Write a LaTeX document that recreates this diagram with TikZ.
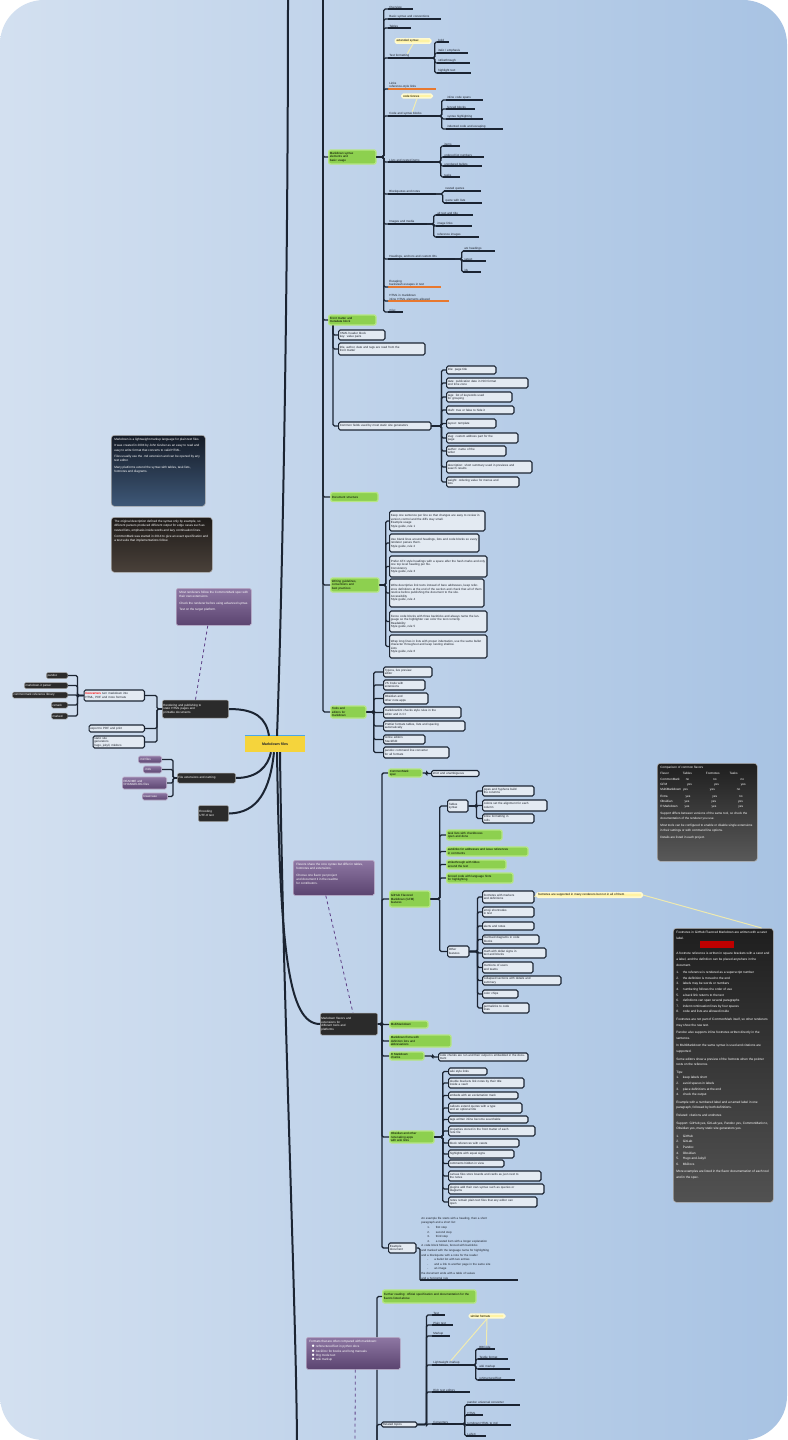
\documentclass[tikz,border=0pt]{standalone}
\usepackage{fontspec}
\setmainfont{Liberation Sans}
\usetikzlibrary{calc}
\definecolor{ln}{HTML}{1B2432}
\definecolor{boxf}{HTML}{E3EAF2}
\definecolor{txt}{HTML}{1A1F29}
\definecolor{grn}{HTML}{8DD04F}
\definecolor{grnglow}{HTML}{B6E684}
\definecolor{dkf}{HTML}{2B2B2B}
\definecolor{pp1}{HTML}{8E77A3}
\definecolor{pp2}{HTML}{5B4470}
\definecolor{yel}{HTML}{FFF3A3}
\definecolor{yelglow}{HTML}{FFFAD0}
\definecolor{org}{HTML}{E8782E}
\definecolor{bgl}{HTML}{D3E0F0}
\definecolor{bgr}{HTML}{A8C3E3}
\definecolor{cen}{HTML}{F5D43C}
\definecolor{cenb}{HTML}{4BA6E8}
\definecolor{dash}{HTML}{5E3F86}
\definecolor{n1top}{HTML}{151B26}
\definecolor{n1bot}{HTML}{3E5878}
\definecolor{n2top}{HTML}{1E1B19}
\definecolor{n2bot}{HTML}{4A413A}
\tikzset{
 conn/.style={draw=ln, line width=1.3pt, rounded corners=1.5pt},
 trunk/.style={draw=ln, line width=2pt},
 uline/.style={draw=ln, line width=1.3pt},
 oline/.style={draw=org, line width=1.3pt},
 base/.style={font=\fontsize{3}{3.5}\selectfont, inner xsep=1.2pt, inner ysep=0.8pt, align=left},
 bx/.style={base, rounded corners=1.5pt, draw=ln, line width=1.1pt, fill=boxf, text=txt},
 gn/.style={base, rounded corners=2pt, fill=grn, draw=grnglow, line width=1.3pt, text=black},
 dk/.style={base, rounded corners=1.5pt, fill=dkf, draw=gray!70, line width=0.5pt, text=white},
 pp/.style={base, rounded corners=1.5pt, top color=pp1, bottom color=pp2, draw=pp1!60!white, line width=0.6pt, text=white},
 yl/.style={base, rounded corners=1.5pt, fill=yel, draw=yelglow, line width=1.6pt, text=black},
 ul/.style={base, inner ysep=0.6pt, text=txt},
 note/.style={rounded corners=3pt, draw=gray!60, line width=0.6pt, text=white, font=\fontsize{3.1}{4.3}\selectfont, inner sep=3pt, anchor=north west},
 dashln/.style={draw=dash, dashed, line width=0.8pt},
 yline/.style={draw=yel, line width=1pt, opacity=0.8},
}
\newcommand\NT[3]{\parbox[c][#2pt][t]{#1pt}{\raggedright #3}}
\newcommand\Bx[6]{\node[#1,text width=#4pt,minimum height=#5pt,anchor=west] (#2) at (#3) {#6};}
\newcommand\BxE[6]{\node[#1,text width=#4pt,minimum height=#5pt,anchor=east] (#2) at (#3) {#6};}
\newcommand\Ul[4]{\node[ul,text width=#3pt,anchor=south west] (#1) at (#2) {#4};\draw[uline] (#1.south west) -- (#1.south east);}
\newcommand\Ulo[4]{\node[ul,text width=#3pt,anchor=south west] (#1) at (#2) {#4};\draw[oline] (#1.south west) -- (#1.south east);}
\newcommand\Lk[3]{\draw[conn] (#1) -- ++(#2,0) |- (#3);}
\begin{document}
\begin{tikzpicture}[x=1pt,y=-1pt]
\useasboundingbox (0,0) rectangle (787,1440);
\fill[white] (0,0) rectangle (787,1440);
\shade[rounded corners=44pt, left color=bgl, right color=bgr] (0,0) rectangle (787,1440);

% ---------- end coordinates of branches leaving the picture
\coordinate (topend) at (288,-3);
\coordinate (p0) at (323,-3);
\coordinate (botend) at (297,1443);
\coordinate (bp) at (377,1443);
\coordinate (p3end) at (355,1443);

% ---------- central
\node[base, fill=cen, minimum width=60pt, minimum height=16pt, align=center, text=txt, font=\fontsize{3.6}{4}\selectfont\bfseries] (c) at (275,744) {Markdown files};
\draw[cenb, line width=1.2pt] (c.north west) -- (c.north east);

% ---------- top main trunk and its children
\draw[trunk] ([xshift=2pt]c.north) .. controls (282,600) and (288,300) .. (topend);

\Bx{gn}{g1}{328,157}{45}{14}{Markdown syntax\\ elements and\\ basic usage}
\Bx{gn}{g2}{328,320}{45}{10}{Front matter and\\ metadata block}
\Bx{gn}{g3}{330,497}{45}{9}{Document structure}
\Bx{gn}{g4}{330,585}{46}{14}{Writing guidelines,\\ conventions and\\ best practices}
\Bx{gn}{g5}{330,712}{33}{12}{Tools and\\ editors for\\ markdown}
\foreach \g in {g1,g2,g3,g4,g5}{\draw[conn] (p0) |- (\g.west);}

% g1 children
\Ul{a1}{388,9}{22}{Overview}
\Ul{a2}{388,19}{50}{Basic syntax and conventions}
\Ul{a3}{388,28}{20}{Tables}
\node[yl, text width=33pt] (lbl1) at (413,41) {extended syntax};
\Ul{a4}{388,58}{36}{Text formatting}
\Ulo{a5}{388,89}{45}{Links\\ reference-style links}
\node[yl, text width=28pt] (lbl2) at (417,96) {code fences};
\Ul{a6}{388,116}{46}{Code and syntax blocks}
\Ul{a7}{388,162}{42}{Lists and nested items}
\Ul{a8}{388,194}{45}{Blockquotes and notes}
\Ul{a9}{388,224}{36}{Images and media}
\Ul{a10}{388,259}{64}{Headings, anchors and custom IDs}
\Ulo{a11}{388,287}{50}{Escaping\\ backslash escapes in text}
\Ulo{a12}{388,301}{58}{HTML in markdown\\ inline HTML elements allowed}
\Ul{a13}{388,312}{12}{misc}
\foreach \a in {a1,a2,a3,a4,a5,a6,a7,a8,a9,a10,a11,a12,a13}{\Lk{g1.east}{7}{\a.south west}}
\draw[yline] (lbl1.south) -- (a4.north);
\draw[yline] (lbl2.south) -- (a6.north);

\Ul{a4a}{437,42}{9}{bold}
\Ul{a4b}{437,53}{28}{italic / emphasis}
\Ul{a4c}{437,63}{30}{strikethrough}
\Ul{a4d}{437,73}{31}{highlight text}
\foreach \s in {a4a,a4b,a4c,a4d}{\Lk{a4.south east}{8}{\s.south west}}

\Ul{a6a}{446,100}{34}{inline code spans}
\Ul{a6b}{446,109}{26}{fenced blocks}
\Ul{a6c}{446,119}{34}{syntax highlighting}
\Ul{a6d}{446,129}{54}{indented code and escaping}
\foreach \s in {a6a,a6b,a6c,a6d}{\Lk{a6.south east}{5}{\s.south west}}

\Ul{a7a}{443,146}{14}{items}
\Ul{a7b}{443,157}{38}{ordered list numbers}
\Ul{a7c}{443,166}{36}{unordered bullets}
\Ul{a7d}{443,177}{14}{tasks}
\foreach \s in {a7a,a7b,a7c,a7d}{\Lk{a7.south east}{8}{\s.south west}}

\Ul{a8a}{444,191}{34}{nested quotes}
\Ul{a8b}{444,203}{35}{quote with lists}
\foreach \s in {a8a,a8b}{\Lk{a8.south east}{7}{\s.south west}}

\Ul{a9a}{436,215}{34}{alt text and title}
\Ul{a9b}{436,226}{33}{image links}
\Ul{a9c}{436,237}{40}{reference images}
\foreach \s in {a9a,a9b,a9c}{\Lk{a9.south east}{7}{\s.south west}}

\Ul{a10a}{463,251}{29}{atx headings}
\Ul{a10b}{463,261}{20}{setext}
\Ul{a10c}{463,272}{15}{ids}
\foreach \s in {a10a,a10b,a10c}{\Lk{a10.south east}{7}{\s.south west}}

% g2 children
\Bx{bx}{b1}{338,335}{44}{10}{YAML header block\\ key: value pairs}
\Bx{bx}{b2}{338,349}{84}{12}{title, author, date and tags are read from the\\ front matter}
\Bx{bx}{b3}{338,426}{90}{8}{Common fields used by most static site generators}
\foreach \b in {b1,b2,b3}{\draw[conn] ([xshift=5pt]g2.south west) |- (\b.west);}
\Bx{bx}{b3a}{446,370}{47}{8}{title: page title}
\Bx{bx}{b3b}{446,383}{79}{10}{date: publication date in ISO format\\ and time zone}
\Bx{bx}{b3c}{446,397}{63}{10}{tags: list of keywords used\\ for grouping}
\Bx{bx}{b3d}{446,410}{65}{8}{draft: true or false to hide it}
\Bx{bx}{b3e}{446,423.5}{47}{9}{layout: template}
\Bx{bx}{b3f}{446,438}{69}{10}{slug: custom address part for the\\ page}
\Bx{bx}{b3g}{446,451}{57}{10}{author: name of the\\ writer}
\Bx{bx}{b3h}{446,467}{83}{12}{description: short summary used in previews and\\ search results}
\Bx{bx}{b3i}{446,482}{70}{10}{weight: ordering value for menus and\\ lists}
\foreach \s in {b3a,b3b,b3c,b3d,b3e,b3f,b3g,b3h,b3i}{\Lk{b3.east}{10}{\s.west}}

% g4 children
\Bx{bx}{g4a}{389,521}{93}{20}{Keep one sentence per line so that changes are easy to review in version control and the diffs stay small.\\ Example usage\\ Style guide, rule 1}
\Bx{bx}{g4b}{389,543}{87}{18}{Use blank lines around headings, lists and code blocks so every renderer parses them.\\ Style guide, rule 2}
\Bx{bx}{g4c}{389,566.5}{95}{21}{Prefer ATX style headings with a space after the hash marks and only one top level heading per file.\\ Consistency\\ Style guide, rule 3}
\Bx{bx}{g4d}{389,593}{92}{28}{Write descriptive link texts instead of bare addresses, keep reference definitions at the end of the section and check that all of them resolve before publishing the document to the site.\\ Accessibility\\ Style guide, rule 4}
\Bx{bx}{g4e}{389,621.5}{95}{21}{Fence code blocks with three backticks and always name the language so the highlighter can color the text correctly.\\ Readability\\ Style guide, rule 5}
\Bx{bx}{g4f}{389,646.5}{95}{23}{Wrap long lines in lists with proper indentation, use the same bullet character throughout and keep nesting shallow.\\ Lists\\ Style guide, rule 6}
\foreach \s in {g4a,g4b,g4c,g4d,g4e,g4f}{\Lk{g4.east}{6}{\s.west}}

% g5 children
\Bx{bx}{g5a}{383,672}{46}{10}{Typora, live preview\\ editor}
\Bx{bx}{g5b}{383,685}{39}{10}{VS Code with\\ extensions}
\Bx{bx}{g5c}{383,698.5}{42}{11}{Obsidian and\\ other note apps}
\Bx{bx}{g5d}{383,712.5}{75}{11}{markdownlint checks style rules in the\\ editor and in CI}
\Bx{bx}{g5e}{383,726}{79}{10}{Prettier formats tables, lists and spacing\\ automatically}
\Bx{bx}{g5f}{383,739.5}{39}{9}{online editors\\ StackEdit}
\Bx{bx}{g5g}{383,752.5}{63}{11}{pandoc command line converter\\ for all formats}
\foreach \s in {g5a,g5b,g5c,g5d,g5e,g5f,g5g}{\Lk{g5.east}{7}{\s.west}}

% ---------- left side
\node[note, top color=n1top, bottom color=n1bot] (n1) at (111,435) {\NT{88}{65}{Markdown is a lightweight markup language for plain text files.\\[2pt] It was created in 2004 by John Gruber as an easy to read and easy to write format that converts to valid HTML.\\[2pt] Files usually use the .md extension and can be opened by any text editor.\\[2pt] Many platforms extend the syntax with tables, task lists, footnotes and diagrams.}};
\node[note, top color=n2top, bottom color=n2bot] (n2) at (111,517) {\NT{95}{49}{The original description defined the syntax only by example, so different parsers produced different output for edge cases such as nested lists, emphasis inside words and lazy continuation lines.\\[2pt] CommonMark was started in 2014 to give an exact specification and a test suite that implementations follow.}};
\node[note, pp, font=\fontsize{3.1}{4.3}\selectfont, inner sep=3pt, align=left] (pn1) at (176,588) {\NT{69}{31}{Most renderers follow the CommonMark spec with their own extensions.\\[2pt] Check the renderer before using advanced syntax.\\[2pt] Test on the target platform.}};

\node[dk, text width=64pt, minimum height=18pt, anchor=west] (A) at (162,709) {Rendering and publishing to\\ static HTML pages and\\ printable documents};
\draw[trunk] (A.east) .. controls (256,709) and (266,718) .. ([xshift=-6pt]c.north);
\draw[dashln] ([xshift=-6pt]pn1.south) -- (A.north);

\BxE{bx}{Ac1}{145,695.5}{58}{11}{{\color{red}\bfseries Converters} turn markdown into\\ HTML, PDF and more formats}
\BxE{bx}{Ac2}{145,728.5}{53}{7}{export to PDF and print}
\BxE{bx}{Ac3}{145,742}{49}{12}{static site\\ generators\\ hugo, jekyll, mkdocs}
\foreach \s in {Ac1,Ac2,Ac3}{\Lk{A.west}{-5}{\s.east}}
\BxE{dk}{Ac1a}{68,675.5}{19}{6}{pandoc}
\BxE{dk}{Ac1b}{68,685.5}{41}{6}{markdown-it parser}
\BxE{dk}{Ac1c}{68,695}{53}{6}{commonmark reference library}
\BxE{dk}{Ac1d}{68,705}{14}{6}{remark}
\BxE{dk}{Ac1e}{68,716}{14}{6}{marked}
\foreach \s in {Ac1a,Ac1b,Ac1c,Ac1d,Ac1e}{\Lk{Ac1.west}{-6}{\s.east}}

\node[dk, text width=56pt, minimum height=10pt, anchor=west] (B) at (177,778) {File extensions and naming};
\draw[trunk] (B.east) .. controls (258,778) and (268,766) .. ([xshift=-4pt]c.south);
\BxE{pp}{Bc1}{162,759.5}{21}{7}{.md files}
\BxE{pp}{Bc2}{162,769.5}{16}{7}{.mdx}
\BxE{pp}{Bc3}{167,783}{42}{12}{README and\\ CHANGELOG files}
\BxE{pp}{Bc4}{168,796.5}{23}{7}{lowercase}
\foreach \s in {Bc1,Bc2,Bc3,Bc4}{\Lk{B.west}{-4}{\s.east}}

\node[dk, text width=28pt, minimum height=16pt, anchor=west] (C) at (198,813.5) {Encoding\\ UTF-8 text};
\draw[trunk] (C.east) .. controls (258,813) and (270,790) .. ([xshift=-1pt]c.south);

% ---------- D branch
\node[dk, text width=55pt, minimum height=22pt, anchor=west] (D) at (320,1024) {Markdown flavors and\\ extensions for\\ different tools and\\ platforms};
\draw[trunk] ([xshift=2pt]c.south) .. controls (280,950) and (288,1024) .. (D.west);
\draw[trunk] ([xshift=5pt]c.south) .. controls (283,1000) and (296,1300) .. (botend);
\node[note, pp, font=\fontsize{3.1}{4.3}\selectfont, inner sep=3pt, align=left] (pn2) at (293,860) {\NT{75}{29}{Flavors share the core syntax but differ in tables, footnotes and extensions.\\[2pt] Choose one flavor per project\\ and document it in the readme\\ for contributors.}};
\draw[dashln] ([xshift=-8pt]pn2.south) -- ([xshift=4pt]D.north);

\Bx{gn}{d1}{388,773}{31}{8}{CommonMark\\ spec}
\Bx{gn}{d2}{389,899}{38}{16}{GitHub Flavored\\ Markdown (GFM)\\ features}
\Bx{gn}{d3}{389,1024.5}{36}{7}{MultiMarkdown}
\Bx{gn}{d4}{389,1041}{59}{12}{Markdown Extra with\\ definition lists and\\ abbreviations}
\Bx{gn}{d5}{389,1056}{32}{8}{R Markdown\\ chunks}
\Bx{gn}{d6}{389,1137}{42}{12}{Obsidian and other\\ note-taking apps\\ with wiki links}
\Bx{bx}{d7}{388,1248}{25}{10}{Example\\ document}
\foreach \s in {d1,d2,d3,d4,d5,d6,d7}{\Lk{D.east}{4}{\s.west}}

\Bx{bx}{d1b}{431,773.5}{45}{6}{strict and unambiguous}
\Lk{d1.east}{4}{d1b.west}

\Bx{bx}{d2a}{447,806}{18}{12}{Tables\\ syntax}
\Bx{gn}{d2b}{446,835}{53}{10}{task lists with checkboxes\\ open and done}
\Bx{gn}{d2c}{446,851.5}{79}{9}{autolinks for addresses and issue references\\ in comments}
\Bx{gn}{d2d}{446,864.5}{57}{9}{strikethrough with tildes\\ around the text}
\Bx{gn}{d2e}{446,878}{64}{10}{fenced code with language hints\\ for highlighting}
\Bx{bx}{d2f}{447,951.5}{19}{11}{Other\\ features}
\foreach \s in {d2a,d2b,d2c,d2d,d2e,d2f}{\Lk{d2.east}{9}{\s.west}}

\Bx{bx}{d2a1}{482,791}{49}{10}{pipes and hyphens build\\ the columns}
\Bx{bx}{d2a2}{482,805.5}{62}{11}{colons set the alignment for each\\ column}
\Bx{bx}{d2a3}{482,818.5}{49}{9}{inline formatting in\\ cells}
\foreach \s in {d2a1,d2a2,d2a3}{\Lk{d2a.east}{8}{\s.west}}

\Bx{bx}{d2f1}{482,897}{49}{12}{footnotes with markers\\ and definitions}
\Bx{bx}{d2f2}{482,912}{49}{10}{emoji shortcodes\\ in text}
\Bx{bx}{d2f3}{482,926}{49}{8}{alerts and notes}
\Bx{bx}{d2f4}{482,939.5}{54}{9}{mermaid diagrams in code\\ blocks}
\Bx{bx}{d2f5}{482,953}{61}{10}{math with dollar signs in\\ text and blocks}
\Bx{bx}{d2f6}{482,967.5}{48}{11}{mentions of users\\ and teams}
\Bx{bx}{d2f7}{482,980.5}{76}{9}{collapsed sections with details and\\ summary}
\Bx{bx}{d2f8}{482,994}{33}{8}{color chips}
\Bx{bx}{d2f9}{482,1008}{44}{10}{permalinks to code\\ lines}
\foreach \s in {d2f1,d2f2,d2f3,d2f4,d2f5,d2f6,d2f7,d2f8,d2f9}{\Lk{d2f.east}{8}{\s.west}}

\node[yl, text width=103pt, anchor=west] (yl3) at (536,895) {footnotes are supported in many renderers but not in all of them};
\draw[yline] (d2f1.east) -- (yl3.west);

\Bx{bx}{d5b}{438,1057}{87}{8}{code chunks are run and their output is embedded in the document}
\Lk{d5.east}{8}{d5b.west}

\Bx{bx}{d6a}{448,1071.5}{36}{7}{wiki style links}
\Bx{bx}{d6b}{448,1083}{73}{10}{double brackets link notes by their title\\ inside a vault}
\Bx{bx}{d6c}{448,1095.5}{67}{7}{embeds with an exclamation mark}
\Bx{bx}{d6d}{448,1108}{71}{10}{callouts extend quotes with a type\\ and an optional title}
\Bx{bx}{d6e}{448,1119.5}{77}{7}{tags written inline become searchable}
\Bx{bx}{d6f}{448,1131}{84}{10}{properties stored in the front matter of each\\ note file}
\Bx{bx}{d6g}{448,1143}{68}{8}{block references with carets}
\Bx{bx}{d6h}{448,1154}{63}{8}{highlights with equal signs}
\Bx{bx}{d6i}{448,1163.5}{53}{7}{comments hidden in view}
\Bx{bx}{d6j}{448,1176}{90}{10}{canvas files store boards and cards as json next to\\ the notes}
\Bx{bx}{d6k}{448,1189}{93}{10}{plugins add their own syntax such as queries or\\ diagrams}
\Bx{bx}{d6l}{448,1202}{86}{10}{notes remain plain text files that any editor can\\ open}
\foreach \s in {d6a,d6b,d6c,d6d,d6e,d6f,d6g,d6h,d6i,d6j,d6k,d6l}{\Lk{d6.east}{8}{\s.west}}

\node[ul, text width=95pt, anchor=south west, font=\fontsize{2.9}{4.6}\selectfont] (d7t) at (420,1280) {An example file starts with a heading, then a short\\ paragraph and a short list:\\ \hspace*{6pt}1.\hspace*{6pt}first step\\ \hspace*{6pt}2.\hspace*{6pt}second step\\ \hspace*{6pt}3.\hspace*{6pt}third step\\ \hspace*{6pt}4.\hspace*{6pt}a nested item with a longer explanation\\ A code block follows, fenced with backticks\\ and marked with the language name for highlighting\\ and a blockquote with a note for the reader\\ \hspace*{6pt}-\hspace*{6pt}a bullet list with two entries\\ \hspace*{6pt}-\hspace*{6pt}and a link to another page in the same site\\ \hspace*{6pt}-\hspace*{6pt}an image\\ the document ends with a table of values\\ and a horizontal rule};
\draw[uline] (d7t.south west) -- (d7t.south east);
\draw[conn] (d7.east) -- (d7t.south west |- d7.east) -- (d7t.south west);

% ---------- right notes
\node[note, top color=black!88, bottom color=black!65, font=\fontsize{3.1}{5.1}\selectfont] (n3) at (657,763) {\NT{94}{92}{Comparison of common flavors\\[1pt] Flavor\hspace{14pt}Tables\hspace{14pt}Footnotes\hspace{10pt}Tasks\\[1pt] CommonMark\hspace{6pt}no\hspace{24pt}no\hspace{24pt}no\\ GFM\hspace{20pt}yes\hspace{22pt}yes\hspace{22pt}yes\\ MultiMarkdown\hspace{2pt}yes\hspace{22pt}yes\hspace{22pt}no\\[1pt] Extra\hspace{18pt}yes\hspace{22pt}yes\hspace{22pt}no\\ Obsidian\hspace{12pt}yes\hspace{22pt}yes\hspace{22pt}yes\\ R Markdown\hspace{7pt}yes\hspace{22pt}yes\hspace{22pt}yes\\[2pt] Support differs between versions of the same tool, so check the documentation of the renderer you use.\\[2pt] Most tools can be configured to enable or disable single extensions in their settings or with command line options.\\[2pt] Details are listed in each project.}};
\node[note, top color=black!88, bottom color=black!68, font=\fontsize{3.2}{5.6}\selectfont] (n4) at (673,928) {\NT{94}{268}{Footnotes in GitHub Flavored Markdown are written with a caret label.\\[1pt] \hspace*{24pt}{\color{red!75!black}\rule{34pt}{7pt}}\\[1pt] A footnote reference is written in square brackets with a caret and a label, and the definition can be placed anywhere in the document.\\[2pt] 1.\hspace{4pt}the reference is rendered as a superscript number\\ 2.\hspace{4pt}the definition is moved to the end\\ 3.\hspace{4pt}labels may be words or numbers\\ 4.\hspace{4pt}numbering follows the order of use\\ 5.\hspace{4pt}a back link returns to the text\\ 6.\hspace{4pt}definitions can span several paragraphs\\ 7.\hspace{4pt}indent continuation lines by four spaces\\ 8.\hspace{4pt}code and lists are allowed inside\\[2pt] Footnotes are not part of CommonMark itself, so other renderers may show the raw text.\\[2pt] Pandoc also supports inline footnotes written directly in the sentence.\\[2pt] In MultiMarkdown the same syntax is used and citations are supported.\\[2pt] Some editors show a preview of the footnote when the pointer rests on the reference.\\[2pt] Tips:\\ 1.\hspace{4pt}keep labels short\\ 2.\hspace{4pt}avoid spaces in labels\\ 3.\hspace{4pt}place definitions at the end\\ 4.\hspace{4pt}check the output\\[2pt] Example with a numbered label and a named label in one paragraph, followed by both definitions.\\[2pt] Related: citations and endnotes\\[2pt] Support: GitHub yes, GitLab yes, Pandoc yes, CommonMark no, Obsidian yes, many static site generators yes.\\[2pt] 1.\hspace{4pt}GitHub\\ 2.\hspace{4pt}GitLab\\ 3.\hspace{4pt}Pandoc\\ 4.\hspace{4pt}Obsidian\\ 5.\hspace{4pt}Hugo and Jekyll\\ 6.\hspace{4pt}MkDocs\\[2pt] More examples are listed in the flavor documentation of each tool and in the spec.}};
\draw[yline] (yl3.east) -- ([xshift=-12pt]n4.north east);

% ---------- bottom branch
\Bx{gn}{e1}{382,1296.5}{91}{13}{Further reading: official specification and documentation for the\\ flavors listed above}
\Bx{bx}{e2}{381,1424.5}{33}{5}{Related topics}
\draw[conn] (bp) |- (e1.west);
\draw[conn] (bp) |- (e2.west);
\node[note, pp, font=\fontsize{3.1}{4.3}\selectfont, inner sep=3pt, align=left] (pn3) at (306,1337) {\NT{88}{26}{Formats that are often compared with markdown:\\[1pt] \hspace*{2pt}$\bullet$ reStructuredText in python docs\\ \hspace*{2pt}$\bullet$ AsciiDoc for books and long manuals\\ \hspace*{2pt}$\bullet$ Org mode text\\ \hspace*{2pt}$\bullet$ wiki markup}};
\draw[dashln] ([xshift=2pt]pn3.south) -- (p3end);

\Ul{e2a}{432,1315}{10}{Text}
\Ul{e2b}{432,1325}{18}{Plain text}
\Ul{e2c}{432,1336}{15}{Markup}
\Ul{e2d}{432,1365}{35}{Lightweight markup}
\Ul{e2e}{432,1392}{35}{Rich text editors}
\Ul{e2f}{432,1424}{21}{Converters}
\foreach \s in {e2a,e2b,e2c,e2d,e2e,e2f}{\Lk{e2.east}{9}{\s.south west}}
\Ul{e2d1}{478,1349}{14}{BBCode}
\Ul{e2d2}{478,1359}{27}{Textile format}
\Ul{e2d3}{478,1369}{29}{wiki markup}
\Ul{e2d4}{478,1380}{34}{reStructuredText}
\foreach \s in {e2d1,e2d2,e2d3,e2d4}{\Lk{e2d.south east}{6}{\s.south west}}
\Ul{e2f1}{466,1405}{51}{pandoc universal converter}
\Ul{e2f2}{466,1415}{14}{HTML}
\Ul{e2f3}{466,1425}{42}{turndown HTML to md}
\Ul{e2f4}{466,1436}{17}{LaTeX}
\foreach \s in {e2f1,e2f2,e2f3,e2f4}{\Lk{e2f.south east}{9}{\s.south west}}
\node[yl, text width=33pt] (yl4) at (487,1316) {similar formats};
\draw[yline] (yl4.south) -- (e2d.north);
\draw[yline] (yl4.south) -- (e2d1.north);
\end{tikzpicture}
\end{document}
